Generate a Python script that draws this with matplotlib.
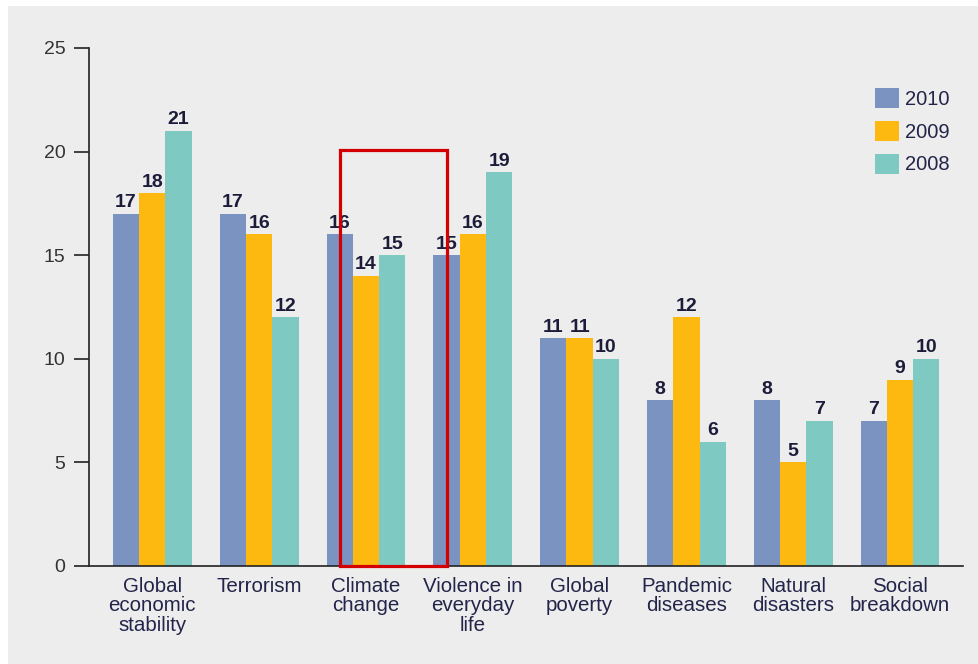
import numpy as np
import matplotlib.pyplot as plt
from matplotlib.patches import Rectangle

categories = ["Global\neconomic\nstability", "Terrorism", "Climate\nchange",
              "Violence in\neveryday\nlife", "Global\npoverty", "Pandemic\ndiseases",
              "Natural\ndisasters", "Social\nbreakdown"]
years = ["2010", "2009", "2008"]
vals_2010 = [17, 17, 16, 15, 11, 8, 8, 7]
vals_2009 = [18, 16, 14, 16, 11, 12, 5, 9]
vals_2008 = [21, 12, 15, 19, 10, 6, 7, 10]
yticks = [0, 5, 10, 15, 20, 25]

colors = ["#7a93c1", "#fdb90f", "#7fc9c3"]
bg = "#ecedec"
ink = "#1c1c3a"

plt.rcParams["font.family"] = ["Liberation Sans", "DejaVu Sans"]

fig = plt.figure(figsize=(9.79, 6.64), dpi=100, facecolor="white")
fig.patches.append(Rectangle((8 / 979, 0), 1, 1 - 6 / 664, transform=fig.transFigure,
                             facecolor=bg, edgecolor="none", zorder=-10))
ax = fig.add_axes([89 / 979, 1 - 566 / 664, (963 - 89) / 979, (566 - 48) / 664])
ax.set_facecolor(bg)

x = np.arange(len(categories))
w = 0.246
for i, (vals, c) in enumerate(zip([vals_2010, vals_2009, vals_2008], colors)):
    pos = x + (i - 1) * w
    ax.bar(pos, vals, width=w, color=c, label=years[i], zorder=2)
    for xp, v in zip(pos, vals):
        ax.text(xp, v + 0.12, str(v), ha="center", va="bottom", fontsize=14,
                fontweight="bold", color=ink, zorder=3)

# highlight box around the climate change group
ax.add_patch(Rectangle((1.76, 0), 1.0, 20.1, fill=False, edgecolor="#d40000",
                       linewidth=2.3, zorder=4, clip_on=False))

ax.set_xlim(-0.593, 7.589)
ax.set_ylim(0, 25)
ax.set_yticks(yticks)
ax.set_xticks(x)
ax.set_xticklabels(categories, fontsize=14.8, color="#24244a", linespacing=1.02)
ax.tick_params(axis="x", length=0, pad=8)
ax.tick_params(axis="y", length=11, width=1.2, pad=6, labelsize=14,
               labelcolor="#333333", color="#222222")
for s in ["top", "right"]:
    ax.spines[s].set_visible(False)
for s in ["left", "bottom"]:
    ax.spines[s].set_linewidth(1.2)
    ax.spines[s].set_color("#222222")

ax.legend(loc="upper right", bbox_to_anchor=(1.005, 0.958), frameon=False,
          fontsize=14.5, handlelength=1.15, handleheight=1.15, handletextpad=0.3,
          labelspacing=0.6, labelcolor="#24244a")

fig.savefig("out.png", dpi=100, facecolor=fig.get_facecolor())
